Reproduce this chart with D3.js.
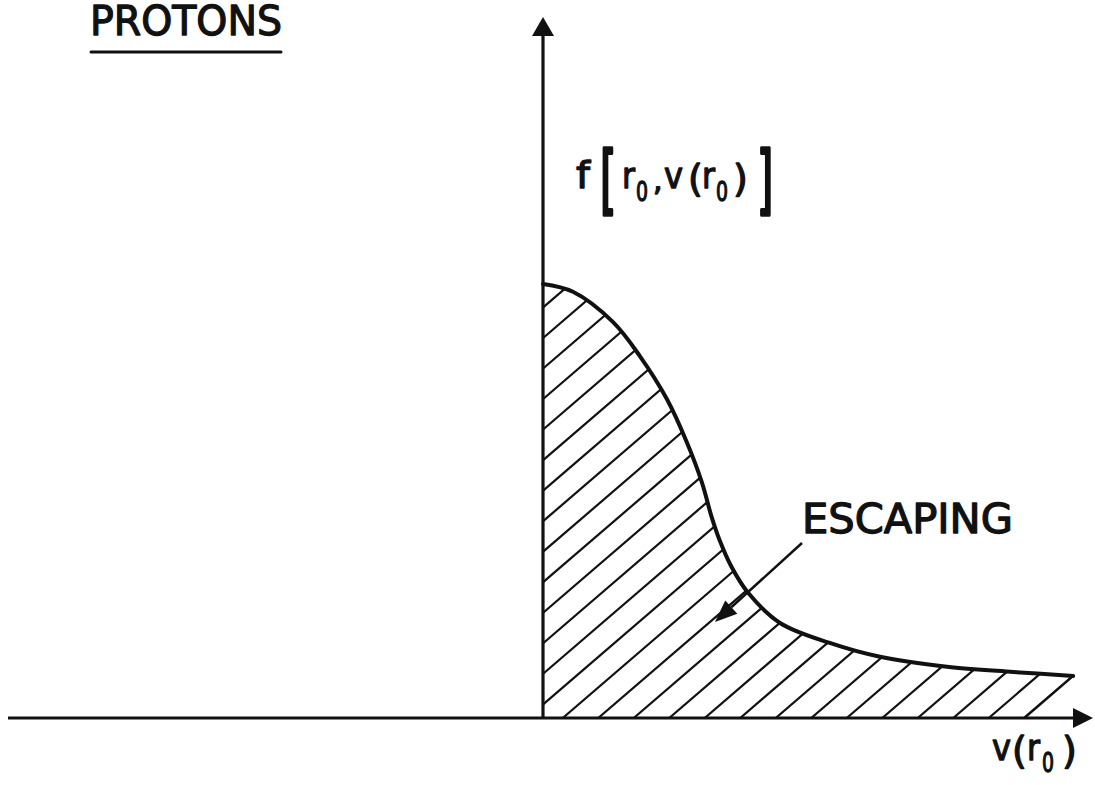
<!DOCTYPE html>
<html><head><meta charset="utf-8">
<script src="https://cdn.jsdelivr.net/npm/d3@7"></script>
<style>body{margin:0;background:#fff}svg{display:block}</style>
</head><body><svg id="c" width="1095" height="785"></svg>
<script>
// velocity v(r0) (arbitrary units, 0..1) and distribution f[r0, v(r0)] (normalised)
const velocity     = [0, 0.056, 0.131, 0.181, 0.232, 0.269, 0.297, 0.315, 0.330, 0.352, 0.383, 0.443, 0.536, 0.630, 0.755, 0.879, 0.991];
const distribution = [1.0, 0.982, 0.912, 0.834, 0.734, 0.635, 0.543, 0.464, 0.410, 0.349, 0.289, 0.219, 0.173, 0.141, 0.118, 0.106, 0.097];
const xAxisExtent = [-1, 1.028];
const yAxisExtent = [0, 1.615];
const titleText = "PROTONS";
const escapeText = "ESCAPING";

const svg = d3.select("#c");
const x = d3.scaleLinear().domain([-1, 1]).range([8, 1078]);
const y = d3.scaleLinear().domain([0, 1]).range([718, 284]);
const pts = velocity.map((v, i) => [v, distribution[i]]);

const ink = "#111";
const slope = 0.86;      // hatch slope (dy/dx in px)
const hSpace = 35.5;     // hatch spacing along v axis (px)

const last = pts[pts.length - 1];
const xEnd = x(last[0]), yEnd = y(last[1]);
const xFoot = xEnd - (y(0) - yEnd) / slope;
const line = d3.line().x(d => x(d[0])).y(d => y(d[1])).curve(d3.curveCatmullRom.alpha(0.5));

const defs = svg.append("defs");
defs.append("clipPath").attr("id", "clip2").append("path").attr("d",
  `M${x(0)},${y(0)}L${x(0)},${y(pts[0][1])}` + line(pts).replace(/^M[^CL]*/, "") + `L${xFoot},${y(0)}Z`);

// hatching lines
const hatch = svg.append("g").attr("clip-path", "url(#clip2)");
for (let b = xFoot; b > x(0) - 800; b -= hSpace) {
  hatch.append("line")
    .attr("x1", b).attr("y1", y(0))
    .attr("x2", b + 600).attr("y2", y(0) - 600 * slope)
    .attr("stroke", ink).attr("stroke-width", 2.2);
}
svg.append("line").attr("x1", xFoot).attr("y1", y(0)).attr("x2", xEnd).attr("y2", yEnd)
  .attr("stroke", ink).attr("stroke-width", 2.4);

// curve
svg.append("path").attr("d", line(pts)).attr("fill", "none")
  .attr("stroke", ink).attr("stroke-width", 4).attr("stroke-linecap", "round");

// axes
svg.append("line").attr("x1", x(xAxisExtent[0])).attr("x2", x(xAxisExtent[1]) - 15)
  .attr("y1", y(0)).attr("y2", y(0)).attr("stroke", ink).attr("stroke-width", 3.2);
svg.append("path").attr("d", `M${x(xAxisExtent[1])},${y(0)}L${x(xAxisExtent[1]) - 20},${y(0) - 10}L${x(xAxisExtent[1]) - 20},${y(0) + 10}Z`)
  .attr("fill", ink);
svg.append("line").attr("x1", x(0)).attr("x2", x(0))
  .attr("y1", y(0) + 1).attr("y2", y(yAxisExtent[1]) + 15).attr("stroke", ink).attr("stroke-width", 3.2);
svg.append("path").attr("d", `M${x(0)},${y(yAxisExtent[1])}L${x(0) - 11},${y(yAxisExtent[1]) + 19}L${x(0) + 11},${y(yAxisExtent[1]) + 19}Z`)
  .attr("fill", ink);

const font = "DejaVu Sans, sans-serif";
function txt(s, px, py, size, opts = {}) {
  const t = svg.append("text").attr("x", px).attr("y", py).text(s)
    .attr("font-family", font).attr("font-size", size).attr("fill", ink)
    .attr("stroke", ink).attr("stroke-width", opts.sw ?? 1.3).attr("stroke-linejoin", "round");
  if (opts.len) t.attr("textLength", opts.len).attr("lengthAdjust", "spacingAndGlyphs");
  if (opts.tf) t.attr("transform", opts.tf).attr("x", 0).attr("y", 0);
  return t;
}

// title
txt(titleText, 90, 35, 41, { len: 192 });
svg.append("line").attr("x1", 91).attr("x2", 281).attr("y1", 52).attr("y2", 52)
  .attr("stroke", ink).attr("stroke-width", 3).attr("stroke-linecap", "round");

// y label f[r0, v(r0)]
txt("f", 576, 188, 38, { len: 14 });
txt("[", 0, 0, 38, { tf: "translate(600,205) scale(1.1,1.95)", sw: 1.8 });
txt("r", 622, 188, 36, { len: 13 });
txt("0", 636, 201, 26, { len: 12 });
txt(",", 653, 190, 30);
txt("v", 664, 188, 36, { len: 19 });
txt("(", 688, 191, 38);
txt("r", 702, 188, 36, { len: 13 });
txt("0", 716, 201, 26, { len: 12 });
txt(")", 733, 191, 38);
txt("]", 0, 0, 38, { tf: "translate(757,205) scale(1.1,1.95)", sw: 1.8 });

// x label v(r0)
txt("v", 992, 760, 36, { len: 19 });
txt("(", 1012, 763, 38);
txt("r", 1027, 760, 36, { len: 13 });
txt("0", 1042, 772, 26, { len: 12 });
txt(")", 1062, 763, 38);

// ESCAPING label + arrow
txt(escapeText, 802, 533, 41, { len: 211 });
const ax1 = 802, ay1 = 543, ax2 = 715, ay2 = 622;
const ang = Math.atan2(ay2 - ay1, ax2 - ax1);
const hl = 22, hw = 9;
const bx = ax2 - hl * Math.cos(ang), by = ay2 - hl * Math.sin(ang);
svg.append("line").attr("x1", ax1).attr("y1", ay1).attr("x2", bx).attr("y2", by)
  .attr("stroke", ink).attr("stroke-width", 2.5);
svg.append("path").attr("d",
  `M${ax2},${ay2}L${bx + hw * Math.sin(ang)},${by - hw * Math.cos(ang)}L${bx - hw * Math.sin(ang)},${by + hw * Math.cos(ang)}Z`)
  .attr("fill", ink);
</script></body></html>
